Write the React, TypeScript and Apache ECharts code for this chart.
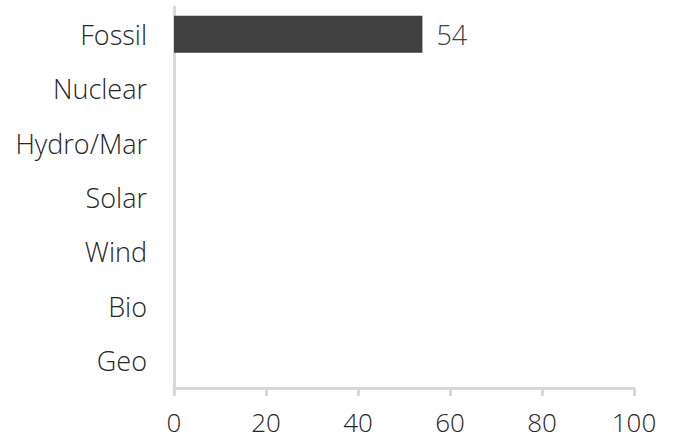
import React, { useEffect, useRef } from "react";
import * as echarts from "echarts";

const categories = ["Fossil", "Nuclear", "Hydro/Mar", "Solar", "Wind", "Bio", "Geo"];
const values: (number | null)[] = [54, null, null, null, null, null, null];
const xTicks = { min: 0, max: 100, interval: 20 };

export default function App() {
  const ref = useRef<HTMLDivElement>(null);
  useEffect(() => {
    document.body.style.margin = "0";
    const chart = echarts.init(ref.current!, null, { renderer: "svg" });
    const font = "'Open Sans', sans-serif";
    const textColor = "#262626";
    chart.setOption({
      animation: false,
      grid: { left: 174, top: 7, width: 460, height: 381, containLabel: false },
      xAxis: {
        type: "value",
        min: xTicks.min,
        max: xTicks.max,
        interval: xTicks.interval,
        axisLine: { show: true, lineStyle: { color: "#d9d9d9", width: 3 } },
        axisTick: { show: true, length: 8, lineStyle: { color: "#d9d9d9", width: 3 } },
        splitLine: { show: false },
        axisLabel: { color: textColor, fontSize: 26, fontFamily: font, fontWeight: 300, margin: 21 },
      },
      yAxis: {
        type: "category",
        data: categories,
        inverse: true,
        axisLine: { show: true, lineStyle: { color: "#d9d9d9", width: 3 } },
        axisTick: { show: false },
        axisLabel: { color: textColor, fontSize: 27, fontFamily: font, fontWeight: 300, margin: 27 },
      },
      series: [
        {
          type: "bar",
          data: values,
          barCategoryGap: "32%",
          itemStyle: { color: "#404040" },
          label: {
            show: true,
            position: "right",
            distance: 14,
            color: "#404040",
            fontSize: 27,
            fontFamily: font,
            fontWeight: 300,
          },
        },
      ],
    });
    return () => chart.dispose();
  }, []);
  return <div ref={ref} style={{ width: 678, height: 439 }} />;
}
